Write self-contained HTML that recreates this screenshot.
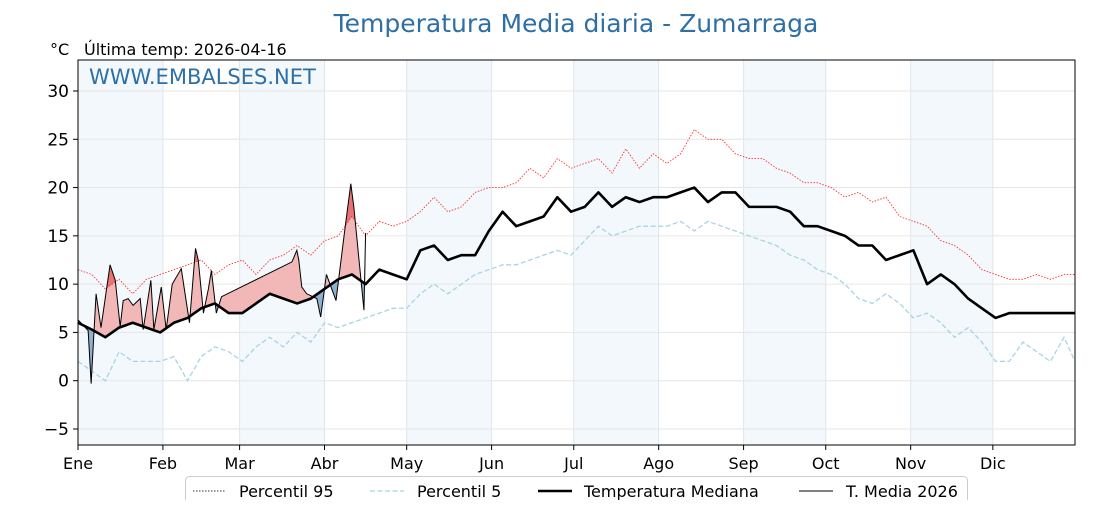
<!DOCTYPE html>
<html><head><meta charset="utf-8">
<style>
body{margin:0;background:#fff;font-family:"Liberation Sans","DejaVu Sans",sans-serif;}
svg text{font-family:"DejaVu Sans","Liberation Sans",sans-serif;}
</style></head>
<body>
<svg id="chart" width="1120" height="500" viewBox="0 0 1120 500" xmlns="http://www.w3.org/2000/svg">
<rect width="1120" height="500" fill="#fff"/>
<text x="576" y="32" text-anchor="middle" font-size="25" fill="#2e6fa6">Temperatura Media diaria - Zumarraga</text>
<text x="50" y="55" font-size="16" fill="#000">°C</text>
<text x="84" y="55" font-size="16" fill="#000">Última temp: 2026-04-16</text>
<g id="bands"></g>
<g id="grid"></g>
<g id="plot"></g>
<text x="89" y="84" font-size="21" fill="#2e6fa6">WWW.EMBALSES.NET</text>
<rect x="78" y="60" width="997" height="385" fill="none" stroke="#000" stroke-width="1"/>
<g id="axes"></g>
<g>
<rect x="185.5" y="476.5" width="782" height="30" rx="4" fill="#fff" stroke="#ccc"/>
<line x1="193" y1="491" x2="226" y2="491" stroke="#333" stroke-width="1" stroke-dasharray="1.5,1.5"/>
<text x="239" y="497" font-size="16">Percentil 95</text>
<line x1="370" y1="491" x2="404" y2="491" stroke="#a8d4e2" stroke-width="1.2" stroke-dasharray="5,2.5"/>
<text x="417" y="497" font-size="16">Percentil 5</text>
<line x1="538" y1="491" x2="572" y2="491" stroke="#000" stroke-width="2.6"/>
<text x="584" y="497" font-size="16">Temperatura Mediana</text>
<line x1="799" y1="491" x2="833" y2="491" stroke="#000" stroke-width="1"/>
<text x="846" y="497" font-size="16">T. Media 2026</text>
</g>
</svg>
<script>
const monthLabels=["Ene","Feb","Mar","Abr","May","Jun","Jul","Ago","Sep","Oct","Nov","Dic"];
const monthStartDays=[0,31,59,90,120,151,181,212,243,273,304,334];
const yTicks=[-5,0,5,10,15,20,25,30];
const seriesDays=[0,5,10,15,20,25,30,35,40,45,50,55,60,65,70,75,80,85,90,95,100,105,110,115,120,125,130,135,140,145,150,155,160,165,170,175,180,185,190,195,200,205,210,215,220,225,230,235,240,245,250,255,260,265,270,275,280,285,290,295,300,305,310,315,320,325,330,335,340,345,350,355,360,364];
const medianVals=[6,5.3,4.5,5.5,6,5.5,5,6,6.5,7.5,8,7,7,8,9,8.5,8,8.5,9.5,10.5,11,10,11.5,11,10.5,13.5,14,12.5,13,13,15.5,17.5,16,16.5,17,19,17.5,18,19.5,18,19,18.5,19,19,19.5,20,18.5,19.5,19.5,18,18,18,17.5,16,16,15.5,15,14,14,12.5,13,13.5,10,11,10,8.5,7.5,6.5,7,7,7,7,7,7];
const p95Vals=[11.5,11,9.5,10.5,9,10.5,11,11.5,12,12.5,11,12,12.5,11,12.5,13,14,13,14.5,15,17,15,16.5,16,16.5,17.5,19,17.5,18,19.5,20,20,20.5,22,21,23,22,22.5,23,21.5,24,22,23.5,22.5,23.5,26,25,25,23.5,23,23,22,21.5,20.5,20.5,20,19,19.5,18.5,19,17,16.5,16,14.5,14,13,11.5,11,10.5,10.5,11,10.5,11,11];
const p5Vals=[2,1,0,3,2,2,2,2.5,0,2.5,3.5,3,2,3.5,4.5,3.5,5,4,6,5.5,6,6.5,7,7.5,7.5,9,10,9,10,11,11.5,12,12,12.5,13,13.5,13,14.5,16,15,15.5,16,16,16,16.5,15.5,16.5,16,15.5,15,14.5,14,13,12.5,11.5,11,10,8.5,8,9,8,6.5,7,6,4.5,5.5,4,2,2,4,3,2,4.5,2];
const t2026Days=[0,3.7,4.8,6.6,8.4,11.7,13.6,15.4,16.5,18.3,20.1,22.7,23.8,26.6,27.7,30.4,32.2,34.4,37.7,37.7,40.7,42.9,43.9,45.8,47.6,48.7,50.5,52.4,78.1,79.9,80.6,81.7,83.5,87.2,88.6,90.7,91.6,94.2,97.4,99.6,100.7,102.6,104.4,105];
const t2026Vals=[6.3,5.2,-0.3,9,5.5,12,10.4,5.6,8.3,8.5,7.8,8.5,5.3,10.4,5.3,9.7,5.3,10,11.6,11.6,6,13.7,12.5,7,9.5,11.4,7,8.7,12.3,13.5,12.5,9.7,9,8.5,6.6,11,10.3,8.3,15.6,20.4,18,12.5,7.3,15.3];

const NS="http://www.w3.org/2000/svg";
const X0=78,X1=1075,Y0=60,Y1=445;
const xs=d=>X0+(X1-X0)*d/364;
const ys=v=>380.7-9.657*v;
function mk(tag,attrs,parent){const e=document.createElementNS(NS,tag);for(const k in attrs)e.setAttribute(k,attrs[k]);parent.appendChild(e);return e;}
function interp(days,vals,d){for(let i=0;i<days.length-1;i++){if(d>=days[i]&&d<=days[i+1]){const t=(d-days[i])/((days[i+1]-days[i])||1);return vals[i]+t*(vals[i+1]-vals[i]);}}return vals[vals.length-1];}
const bands=document.getElementById('bands'),grid=document.getElementById('grid'),plot=document.getElementById('plot'),axes=document.getElementById('axes');
monthStartDays.forEach((d,i)=>{
  const end=i<11?monthStartDays[i+1]:364;
  if(i%2===0){const r=mk('rect',{x:xs(d),y:Y0,width:xs(end)-xs(d),height:Y1-Y0,fill:'#f3f8fc'},bands);
    
    }
  const g=mk('line',{x1:xs(d),x2:xs(d),y1:Y0,y2:Y1,stroke:'#dfe6ec','stroke-width':1},grid);
  
  
  const t=mk('line',{x1:xs(d),x2:xs(d),y1:Y1,y2:Y1+5,stroke:'#000'},axes);
  
  
  const l=mk('text',{x:xs(d),y:469,'font-size':16,'text-anchor':'middle'},axes);l.textContent=monthLabels[i];
  
  
});
yTicks.forEach(v=>{
  const g=mk('line',{x1:X0,x2:X1,y1:ys(v),y2:ys(v),stroke:'#e6e6e6','stroke-width':1},grid);
  
  
  const t=mk('line',{x1:X0-5,x2:X0,y1:ys(v),y2:ys(v),stroke:'#000'},axes);
  
  
  const l=mk('text',{x:X0-9,y:ys(v)+6,'font-size':17,'text-anchor':'end'},axes);l.textContent=v<0?'\u2212'+(-v):String(v);
  
  
});
const defs=mk('defs',{},plot);
const lastD=t2026Days[t2026Days.length-1];
const medSteps=[];for(let d=0;d<=lastD;d+=0.5)medSteps.push(d);
const medPts=medSteps.map(d=>[xs(d),ys(interp(seriesDays,medianVals,d))]);
const cpAbove=mk('clipPath',{id:'above'},defs);
mk('polygon',{points:[[X0,Y0],...medPts,[xs(lastD),Y0]].map(p=>p.join(',')).join(' ')},cpAbove);
const cpBelow=mk('clipPath',{id:'below'},defs);
mk('polygon',{points:[[X0,Y1],...medPts,[xs(lastD),Y1]].map(p=>p.join(',')).join(' ')},cpBelow);
const p95Pts=medSteps.map(d=>[xs(d),ys(interp(seriesDays,p95Vals,d))]);
const cpAbove95=mk('clipPath',{id:'above95'},defs);
mk('polygon',{points:[[X0,Y0],...p95Pts,[xs(lastD),Y0]].map(p=>p.join(',')).join(' ')},cpAbove95);
const tPts=t2026Days.map((d,i)=>[xs(d),ys(t2026Vals[i])]);
const areaPts=[...tPts,...medPts.slice().reverse()].map(p=>p.join(',')).join(' ');
const fr=mk('polygon',{points:areaPts,fill:'#f2b8b8','clip-path':'url(#above)'},plot);


const g95=mk('g',{'clip-path':'url(#above95)'},plot);
const fr2=mk('polygon',{points:areaPts,fill:'#e77474','clip-path':'url(#above)'},g95);


const fb=mk('polygon',{points:areaPts,fill:'#8fb1cf','clip-path':'url(#below)'},plot);


function line(days,vals,attrs,name){const p=mk('polyline',Object.assign({points:days.map((d,i)=>xs(d)+','+ys(vals[i])).join(' '),fill:'none'},attrs),plot);
  
  }
line(seriesDays,p95Vals,{stroke:'#ff3030','stroke-width':0.9,'stroke-dasharray':'1.5,1.5'},'p95-line');
line(seriesDays,p5Vals,{stroke:'#a8d4e2','stroke-width':1.3,'stroke-dasharray':'5,2.5'},'p5-line');
line(seriesDays,medianVals,{stroke:'#000','stroke-width':2.6,'stroke-linejoin':'round'},'median-line');
line(t2026Days,t2026Vals,{stroke:'#000','stroke-width':1},'t2026-line');
</script>
</body></html>
